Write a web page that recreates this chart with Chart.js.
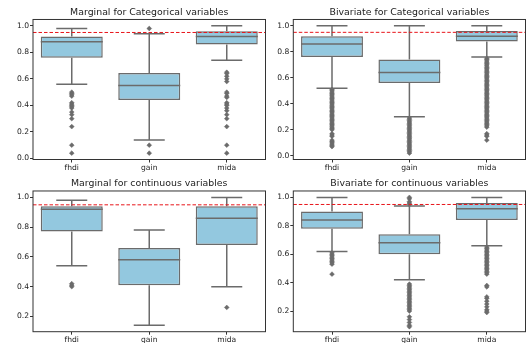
<!DOCTYPE html>
<html>
<head>
<meta charset="utf-8">
<script src="https://cdn.jsdelivr.net/npm/chart.js@4/dist/chart.umd.min.js"></script>
<style>
  html, body { margin:0; padding:0; background:#fff; }
  body { width:530px; height:343px; position:relative; overflow:hidden; }
  .pc { position:absolute; }
</style>
</head>
<body>
<div class="pc" style="left:0px;top:0px;width:270px;height:172px"><canvas id="c1"></canvas></div>
<div class="pc" style="left:260px;top:0px;width:270px;height:172px"><canvas id="c2"></canvas></div>
<div class="pc" style="left:0px;top:171px;width:270px;height:172px"><canvas id="c3"></canvas></div>
<div class="pc" style="left:260px;top:171px;width:270px;height:172px"><canvas id="c4"></canvas></div>
<script>
// ---------- data ----------
const categories = ['fhdi', 'gain', 'mida'];
const panelTitles = [
  'Marginal for Categorical variables',
  'Bivariate for Categorical variables',
  'Marginal for continuous variables',
  'Bivariate for continuous variables'
];
const referenceLevel = 0.95;

// [whisker low, Q1, median, Q3, whisker high] per category
const margCatBoxes = [[0.56, 0.76, 0.88, 0.92, 0.98], [0.14, 0.44, 0.55, 0.645, 0.94], [0.74, 0.86, 0.92, 0.96, 1.00]];
const bivCatBoxes  = [[0.52, 0.76, 0.86, 0.92, 1.00], [0.30, 0.56, 0.64, 0.74, 1.00], [0.76, 0.88, 0.92, 0.96, 1.00]];
const margConBoxes = [[0.54, 0.77, 0.92, 0.94, 0.98], [0.14, 0.41, 0.58, 0.66, 0.78], [0.40, 0.68, 0.86, 0.94, 1.00]];
const bivConBoxes  = [[0.62, 0.78, 0.84, 0.90, 1.00], [0.42, 0.60, 0.68, 0.74, 0.94], [0.66, 0.84, 0.92, 0.96, 1.00]];

// outliers per category
const margCatOutliers = [
  [0.50, 0.49, 0.48, 0.47, 0.42, 0.41, 0.40, 0.39, 0.38, 0.35, 0.33, 0.30, 0.24, 0.10, 0.04],
  [0.98, 0.10, 0.04],
  [0.65, 0.64, 0.62, 0.60, 0.58, 0.50, 0.49, 0.47, 0.46, 0.42, 0.41, 0.40, 0.38, 0.36, 0.33, 0.30, 0.24, 0.10, 0.04]
];
const bivCatOutliers = [
  [0.51, 0.50, 0.49, 0.48, 0.47, 0.46, 0.45, 0.44, 0.43, 0.42, 0.41, 0.40, 0.39, 0.38, 0.37, 0.36, 0.35, 0.34, 0.33, 0.32,
   0.31, 0.30, 0.29, 0.28, 0.27, 0.26, 0.25, 0.24, 0.23, 0.22, 0.21, 0.20, 0.17, 0.16, 0.15, 0.12, 0.11, 0.10, 0.09, 0.08, 0.07],
  [0.29, 0.28, 0.27, 0.26, 0.25, 0.24, 0.23, 0.22, 0.21, 0.20, 0.19, 0.18, 0.17, 0.16, 0.15, 0.14, 0.13, 0.12, 0.11, 0.10,
   0.09, 0.08, 0.07, 0.06, 0.05, 0.04, 0.03, 0.02],
  [0.75, 0.74, 0.73, 0.72, 0.71, 0.70, 0.69, 0.68, 0.67, 0.66, 0.65, 0.64, 0.63, 0.62, 0.61, 0.60, 0.59, 0.58, 0.57, 0.56,
   0.55, 0.54, 0.53, 0.52, 0.51, 0.50, 0.49, 0.48, 0.47, 0.46, 0.45, 0.44, 0.43, 0.42, 0.41, 0.40, 0.39, 0.38, 0.37, 0.36,
   0.35, 0.34, 0.33, 0.32, 0.31, 0.30, 0.29, 0.28, 0.27, 0.26, 0.25, 0.24, 0.23, 0.22, 0.17, 0.16, 0.15, 0.12]
];
const margConOutliers = [
  [0.42, 0.41, 0.40],
  [],
  [0.26]
];
const bivConOutliers = [
  [0.61, 0.60, 0.59, 0.58, 0.57, 0.56, 0.55, 0.54, 0.53, 0.46],
  [1.00, 0.99, 0.97, 0.96, 0.95, 0.39, 0.38, 0.37, 0.36, 0.35, 0.34, 0.33, 0.32, 0.31, 0.30, 0.29, 0.28, 0.27, 0.26, 0.25,
   0.24, 0.23, 0.22, 0.21, 0.20, 0.16, 0.14, 0.12, 0.10, 0.09],
  [0.65, 0.64, 0.63, 0.62, 0.61, 0.60, 0.59, 0.58, 0.57, 0.56, 0.55, 0.54, 0.53, 0.52, 0.51, 0.50, 0.49, 0.48, 0.47, 0.46,
   0.38, 0.37, 0.30, 0.29, 0.27, 0.25, 0.23, 0.21, 0.20, 0.19]
];

// y-axis tick labels and limits
const yTicksFromZero = [0.0, 0.2, 0.4, 0.6, 0.8, 1.0];
const yTicksFromTwo  = [0.2, 0.4, 0.6, 0.8, 1.0];
const margCatRange = [-0.008, 1.048];
const bivCatRange  = [-0.029, 1.049];
const margConRange = [0.097, 1.043];
const bivConRange  = [0.055, 1.045];

// ---------- styling ----------
const FONT = 'DejaVu Sans';
const BOX_FILL = '#93c8df';
const LINE_GRAY = '#6b6b6b';
const AXIS_COLOR = '#333333';

const boxExtras = {
  id: 'boxExtras',
  beforeDatasetsDraw(chart, args, opts) {
    const ctx = chart.ctx;
    const y = chart.scales.y;
    const bars = chart.getDatasetMeta(0).data;
    ctx.save();
    ctx.strokeStyle = LINE_GRAY;
    ctx.lineWidth = 1.5;
    opts.boxes.forEach((b, i) => {
      const bar = bars[i];
      const cx = bar.x, half = bar.width / 4;
      const yLow = y.getPixelForValue(b[0]), yQ1 = y.getPixelForValue(b[1]);
      const yQ3 = y.getPixelForValue(b[3]), yHigh = y.getPixelForValue(b[4]);
      ctx.beginPath();
      ctx.moveTo(cx, yQ1); ctx.lineTo(cx, yLow);
      ctx.moveTo(cx, yQ3); ctx.lineTo(cx, yHigh);
      ctx.moveTo(cx - half, yLow); ctx.lineTo(cx + half, yLow);
      ctx.moveTo(cx - half, yHigh); ctx.lineTo(cx + half, yHigh);
      ctx.stroke();
    });
    ctx.restore();
  },
  afterDatasetsDraw(chart, args, opts) {
    const ctx = chart.ctx;
    const y = chart.scales.y;
    const a = chart.chartArea;
    const bars = chart.getDatasetMeta(0).data;
    ctx.save();
    ctx.strokeStyle = LINE_GRAY;
    ctx.lineWidth = 1.5;
    opts.boxes.forEach((b, i) => {
      const bar = bars[i];
      const ym = y.getPixelForValue(b[2]);
      ctx.beginPath();
      ctx.moveTo(bar.x - bar.width / 2, ym); ctx.lineTo(bar.x + bar.width / 2, ym);
      ctx.stroke();
    });
    // reference line
    const yr = y.getPixelForValue(opts.ref);
    ctx.strokeStyle = '#e8151b';
    ctx.lineWidth = 1;
    ctx.setLineDash([3.5, 2]);
    ctx.beginPath();
    ctx.moveTo(a.left, yr); ctx.lineTo(a.right, yr);
    ctx.stroke();
    ctx.setLineDash([]);
    // axes frame
    ctx.strokeStyle = AXIS_COLOR;
    ctx.lineWidth = 1;
    ctx.strokeRect(a.left, a.top, a.right - a.left, a.bottom - a.top);
    ctx.restore();
  }
};

function makePanel(id, title, boxes, outliers, range, yTicks, geo) {
  const outlierPts = [];
  outliers.forEach((list, i) => list.forEach(v => outlierPts.push({ x: categories[i], y: v })));
  return new Chart(document.getElementById(id), {
    type: 'bar',
    data: {
      labels: categories,
      datasets: [
        {
          type: 'bar',
          data: boxes.map(b => [b[1], b[3]]),
          backgroundColor: BOX_FILL,
          borderColor: LINE_GRAY,
          borderWidth: 1.5,
          borderSkipped: false,
          barPercentage: 0.8,
          categoryPercentage: 1.0,
          order: 2
        },
        {
          type: 'line',
          data: outlierPts,
          showLine: false,
          pointStyle: 'rectRot',
          pointRadius: 2.4,
          pointBackgroundColor: LINE_GRAY,
          pointBorderColor: LINE_GRAY,
          pointBorderWidth: 0.5,
          order: 1
        }
      ]
    },
    options: {
      responsive: true,
      maintainAspectRatio: false,
      animation: false,
      events: [],
      layout: { padding: { left: 0, right: geo.padRight, top: 0, bottom: 0 } },
      plugins: {
        legend: { display: false },
        tooltip: { enabled: false },
        title: {
          display: true,
          fullSize: false,
          text: title,
          color: '#222',
          font: { family: FONT, size: 9.4, weight: 'normal', lineHeight: 1.2 },
          padding: { top: geo.titleTop, bottom: geo.titleBottom }
        },
        boxExtras: { boxes: boxes, ref: referenceLevel }
      },
      scales: {
        x: {
          offset: true,
          grid: { display: true, drawOnChartArea: false, drawTicks: true, tickLength: 3, color: AXIS_COLOR, offset: false },
          border: { display: false },
          ticks: { color: '#222', padding: 1, font: { family: FONT, size: 7.6 }, maxRotation: 0 },
          afterFit: s => { s.height = geo.xHeight; }
        },
        y: {
          min: range[0],
          max: range[1],
          grid: { display: true, drawOnChartArea: false, drawTicks: true, tickLength: 3, color: AXIS_COLOR },
          border: { display: false },
          ticks: {
            color: '#222', padding: 1, font: { family: FONT, size: 7.6 },
            callback: v => Number(v).toFixed(1)
          },
          afterBuildTicks: s => { s.ticks = yTicks.map(v => ({ value: v })); },
          afterFit: s => { s.width = geo.yWidth; }
        }
      }
    },
    plugins: [boxExtras]
  });
}

makePanel('c1', panelTitles[0], margCatBoxes, margCatOutliers, margCatRange, yTicksFromZero,
  { yWidth: 33, padRight: 2.3, titleTop: 6.5, titleBottom: 1.7, xHeight: 12.5 });
makePanel('c2', panelTitles[1], bivCatBoxes, bivCatOutliers, bivCatRange, yTicksFromZero,
  { yWidth: 33.3, padRight: 1.3, titleTop: 6.5, titleBottom: 1.7, xHeight: 12.5 });
makePanel('c3', panelTitles[2], margConBoxes, margConOutliers, margConRange, yTicksFromTwo,
  { yWidth: 33, padRight: 2.3, titleTop: 6.5, titleBottom: 2.2, xHeight: 11.3 });
makePanel('c4', panelTitles[3], bivConBoxes, bivConOutliers, bivConRange, yTicksFromTwo,
  { yWidth: 33.3, padRight: 1.3, titleTop: 6.5, titleBottom: 2.2, xHeight: 11.3 });
</script>
</body>
</html>
